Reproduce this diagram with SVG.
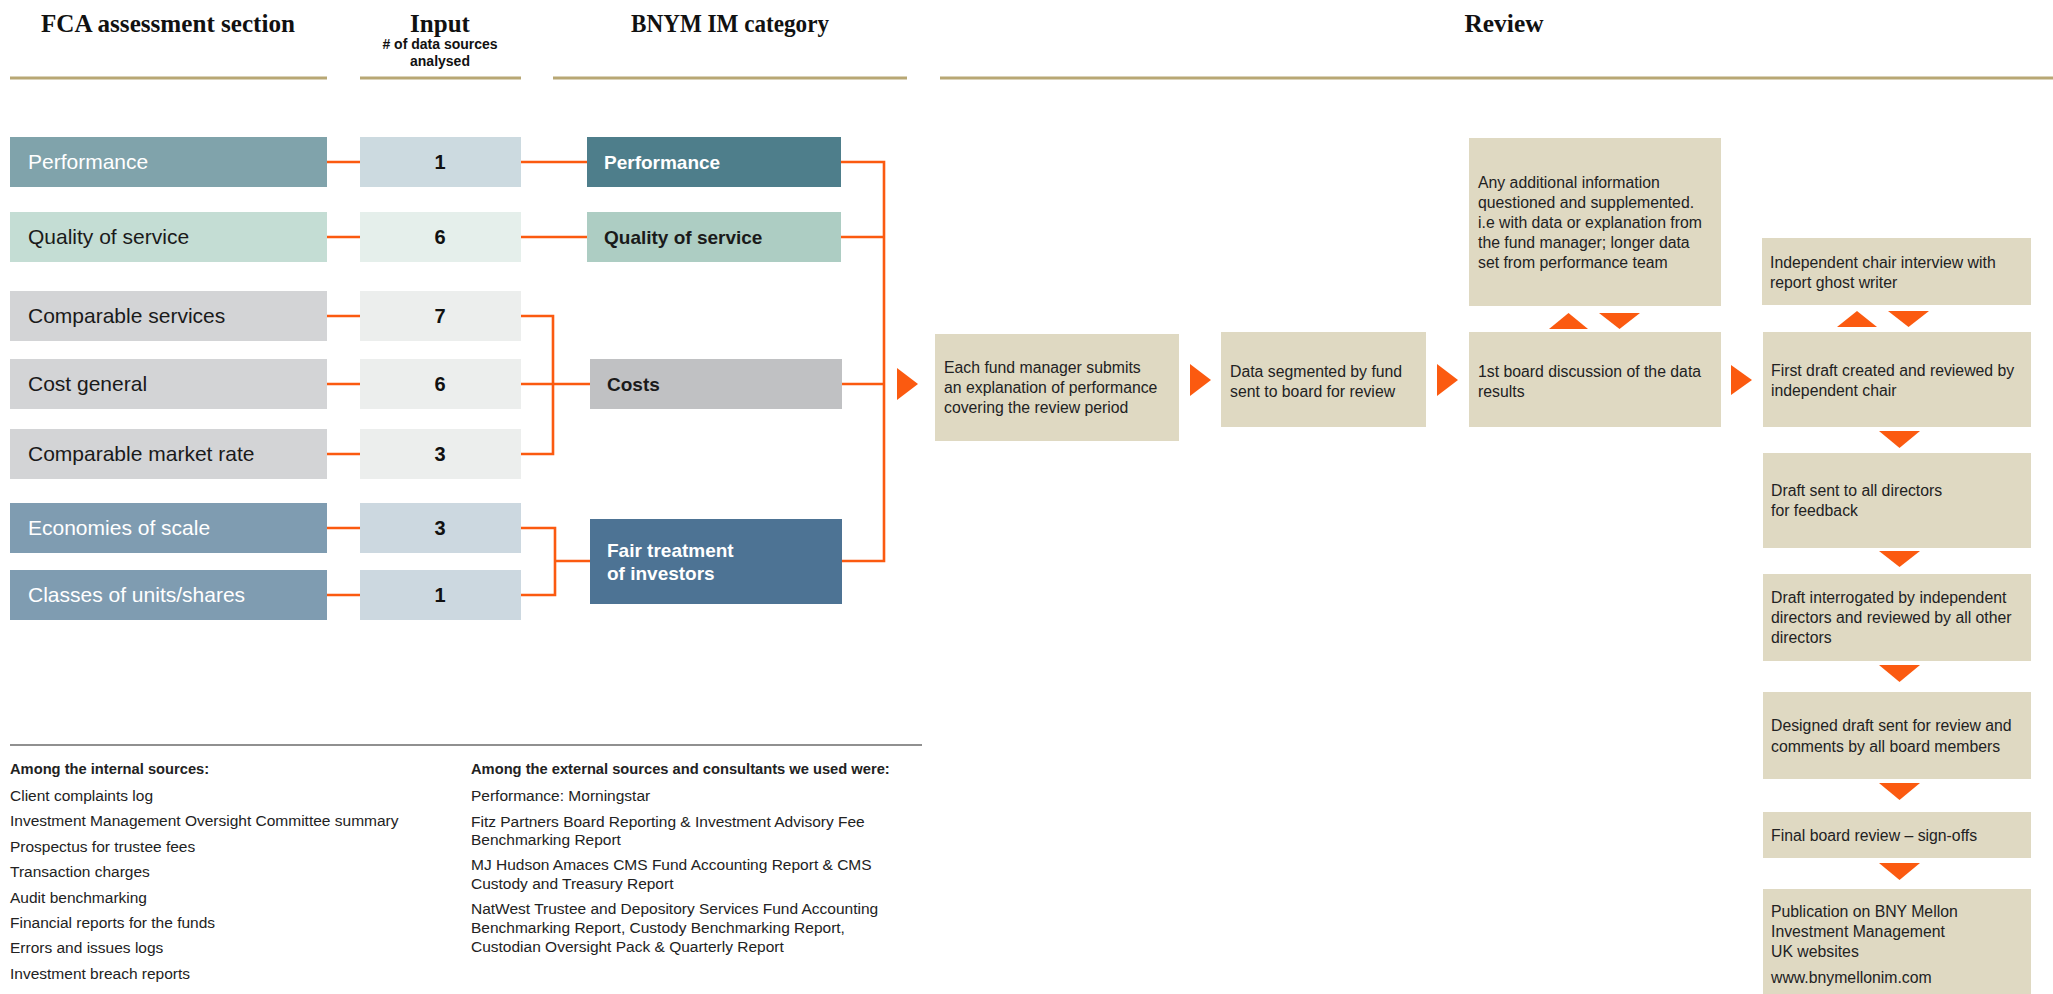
<svg xmlns="http://www.w3.org/2000/svg" width="2053" height="994" viewBox="0 0 2053 994">
<defs>
<style>
.hd{font-family:"Liberation Serif",serif;font-weight:bold;font-size:25px;fill:#111;text-anchor:middle}
.sub{font-family:"Liberation Sans",Arial,sans-serif;font-weight:bold;font-size:14px;fill:#111;text-anchor:middle}
.hl{stroke:#b8a774;stroke-width:3}
.lab{font-family:"Liberation Sans",Arial,sans-serif;font-size:21px}
.num{font-family:"Liberation Sans",Arial,sans-serif;font-size:20px;font-weight:bold;fill:#111;text-anchor:middle}
.cat{font-family:"Liberation Sans",Arial,sans-serif;font-size:19px;font-weight:bold}
.w{fill:#fff}
.d{fill:#1a1a1a}
.bg{fill:#dfd9c2}
.bt{font-family:"Liberation Sans",Arial,sans-serif;font-size:15.8px;fill:#222}
.ft{font-family:"Liberation Sans",Arial,sans-serif;font-size:15.5px;fill:#222}
.fb{font-weight:bold;font-size:14.7px}
.con{fill:none;stroke:#fb5a10;stroke-width:2.6}
.ar{fill:#fb5a10}
</style>
</defs>

<g id="headers">
<text class="hd" x="168" y="32" textLength="254" lengthAdjust="spacingAndGlyphs">FCA assessment section</text>
<text class="hd" x="440" y="32">Input</text>
<text class="sub" x="440" y="49"># of data sources</text>
<text class="sub" x="440" y="66">analysed</text>
<text class="hd" x="730" y="32" textLength="198" lengthAdjust="spacingAndGlyphs">BNYM IM category</text>
<text class="hd" x="1504" y="32" textLength="79" lengthAdjust="spacingAndGlyphs">Review</text>
<line class="hl" x1="10" y1="78" x2="327" y2="78"/>
<line class="hl" x1="360" y1="78" x2="521" y2="78"/>
<line class="hl" x1="553" y1="78" x2="907" y2="78"/>
<line class="hl" x1="940" y1="78" x2="2053" y2="78"/>
</g>

<g id="connectors">
<path class="con" d="M327 162H360M327 237H360M327 316H360M327 384H360M327 454H360M327 528H360M327 595H360"/>
<path class="con" d="M521 162H587M521 237H587"/>
<path class="con" d="M521 316H553V454H521M521 384H590"/>
<path class="con" d="M521 528H555V595H521M555 561H590"/>
<path class="con" d="M841 162H884V561H842M841 237H884M842 384H884"/>
<polygon class="ar" points="897,368 918,384 897,400"/>
<polygon class="ar" points="1190,364 1211,380 1190,396"/>
<polygon class="ar" points="1437,364 1458,380 1437,396"/>
<polygon class="ar" points="1731,365 1752,380 1731,395"/>
<polygon class="ar" points="1549,329 1568.5,313 1588,329"/>
<polygon class="ar" points="1599,313 1640,313 1619.5,329"/>
<polygon class="ar" points="1837,327 1857,311 1877,327"/>
<polygon class="ar" points="1888,311 1929,311 1908.5,327"/>
<polygon class="ar" points="1879,431 1920,431 1899.5,448"/>
<polygon class="ar" points="1879,551 1920,551 1899.5,567"/>
<polygon class="ar" points="1879,665 1920,665 1899.5,682"/>
<polygon class="ar" points="1879,783 1920,783 1899.5,800"/>
<polygon class="ar" points="1879,863 1920,863 1899.5,880"/>
</g>

<g id="fca-performance"><rect x="10" y="137" width="317" height="50" fill="#80a3ab"/><text class="lab w" x="28" y="169">Performance</text></g>
<g id="fca-quality"><rect x="10" y="212" width="317" height="50" fill="#c4ddd4"/><text class="lab d" x="28" y="244">Quality of service</text></g>
<g id="fca-comparable-services"><rect x="10" y="291" width="317" height="50" fill="#d3d4d6"/><text class="lab d" x="28" y="323">Comparable services</text></g>
<g id="fca-cost-general"><rect x="10" y="359" width="317" height="50" fill="#d3d4d6"/><text class="lab d" x="28" y="391">Cost general</text></g>
<g id="fca-market-rate"><rect x="10" y="429" width="317" height="50" fill="#d3d4d6"/><text class="lab d" x="28" y="461">Comparable market rate</text></g>
<g id="fca-economies"><rect x="10" y="503" width="317" height="50" fill="#7f9cb1"/><text class="lab w" x="28" y="535">Economies of scale</text></g>
<g id="fca-classes"><rect x="10" y="570" width="317" height="50" fill="#7f9cb1"/><text class="lab w" x="28" y="602">Classes of units/shares</text></g>

<g id="in-1"><rect x="360" y="137" width="161" height="50" fill="#ccdae0"/><text class="num" x="440" y="169">1</text></g>
<g id="in-2"><rect x="360" y="212" width="161" height="50" fill="#e5efeb"/><text class="num" x="440" y="244">6</text></g>
<g id="in-3"><rect x="360" y="291" width="161" height="50" fill="#eceeed"/><text class="num" x="440" y="323">7</text></g>
<g id="in-4"><rect x="360" y="359" width="161" height="50" fill="#eceeed"/><text class="num" x="440" y="391">6</text></g>
<g id="in-5"><rect x="360" y="429" width="161" height="50" fill="#eceeed"/><text class="num" x="440" y="461">3</text></g>
<g id="in-6"><rect x="360" y="503" width="161" height="50" fill="#ccd8e0"/><text class="num" x="440" y="535">3</text></g>
<g id="in-7"><rect x="360" y="570" width="161" height="50" fill="#ccd8e0"/><text class="num" x="440" y="602">1</text></g>

<g id="cat-performance"><rect x="587" y="137" width="254" height="50" fill="#4e7e8b"/><text class="cat w" x="604" y="169">Performance</text></g>
<g id="cat-quality"><rect x="587" y="212" width="254" height="50" fill="#adcdc3"/><text class="cat d" x="604" y="244">Quality of service</text></g>
<g id="cat-costs"><rect x="590" y="359" width="252" height="50" fill="#c0c1c3"/><text class="cat d" x="607" y="391">Costs</text></g>
<g id="cat-fair"><rect x="590" y="519" width="252" height="85" fill="#4d7394"/><text class="cat w" x="607" y="557">Fair treatment</text><text class="cat w" x="607" y="580">of investors</text></g>

<g id="r-submit"><rect class="bg" x="935" y="334" width="244" height="107"/><text class="bt" x="944" y="373">Each fund manager submits</text><text class="bt" x="944" y="393">an explanation of performance</text><text class="bt" x="944" y="413">covering the review period</text></g>
<g id="r-segment"><rect class="bg" x="1221" y="332" width="205" height="95"/><text class="bt" x="1230" y="377">Data segmented by fund</text><text class="bt" x="1230" y="397">sent to board for review</text></g>
<g id="r-additional"><rect class="bg" x="1469" y="138" width="252" height="168"/><text class="bt" x="1478" y="188">Any additional information</text><text class="bt" x="1478" y="208">questioned and supplemented.</text><text class="bt" x="1478" y="228">i.e with data or explanation from</text><text class="bt" x="1478" y="248">the fund manager; longer data</text><text class="bt" x="1478" y="268">set from performance team</text></g>
<g id="r-discussion"><rect class="bg" x="1469" y="332" width="252" height="95"/><text class="bt" x="1478" y="377">1st board discussion of the data</text><text class="bt" x="1478" y="397">results</text></g>
<g id="r-interview"><rect class="bg" x="1762" y="238" width="269" height="67"/><text class="bt" x="1770" y="268">Independent chair interview with</text><text class="bt" x="1770" y="288">report ghost writer</text></g>
<g id="r-first-draft"><rect class="bg" x="1763" y="332" width="268" height="95"/><text class="bt" x="1771" y="376">First draft created and reviewed by</text><text class="bt" x="1771" y="396">independent chair</text></g>
<g id="r-directors"><rect class="bg" x="1763" y="453" width="268" height="95"/><text class="bt" x="1771" y="496">Draft sent to all directors</text><text class="bt" x="1771" y="516">for feedback</text></g>
<g id="r-interrogated"><rect class="bg" x="1763" y="574" width="268" height="87"/><text class="bt" x="1771" y="603">Draft interrogated by independent</text><text class="bt" x="1771" y="623">directors and reviewed by all other</text><text class="bt" x="1771" y="643">directors</text></g>
<g id="r-designed"><rect class="bg" x="1763" y="692" width="268" height="87"/><text class="bt" x="1771" y="731">Designed draft sent for review and</text><text class="bt" x="1771" y="752">comments by all board members</text></g>
<g id="r-final"><rect class="bg" x="1763" y="812" width="268" height="46"/><text class="bt" x="1771" y="841">Final board review – sign-offs</text></g>
<g id="r-publication"><rect class="bg" x="1763" y="889" width="268" height="105"/><text class="bt" x="1771" y="917">Publication on BNY Mellon</text><text class="bt" x="1771" y="937">Investment Management</text><text class="bt" x="1771" y="957">UK websites</text><text class="bt" x="1771" y="983">www.bnymellonim.com</text></g>

<g id="footer">
<line x1="10" y1="745" x2="922" y2="745" stroke="#222" stroke-width="1.2"/>
<text class="ft fb" x="10" y="774">Among the internal sources:</text>
<text class="ft" x="10" y="801">Client complaints log</text>
<text class="ft" x="10" y="826">Investment Management Oversight Committee summary</text>
<text class="ft" x="10" y="852">Prospectus for trustee fees</text>
<text class="ft" x="10" y="877">Transaction charges</text>
<text class="ft" x="10" y="903">Audit benchmarking</text>
<text class="ft" x="10" y="928">Financial reports for the funds</text>
<text class="ft" x="10" y="953">Errors and issues logs</text>
<text class="ft" x="10" y="979">Investment breach reports</text>
<text class="ft fb" x="471" y="774">Among the external sources and consultants we used were:</text>
<text class="ft" x="471" y="801">Performance: Morningstar</text>
<text class="ft" x="471" y="827">Fitz Partners Board Reporting &amp; Investment Advisory Fee</text>
<text class="ft" x="471" y="845">Benchmarking Report</text>
<text class="ft" x="471" y="870">MJ Hudson Amaces CMS Fund Accounting Report &amp; CMS</text>
<text class="ft" x="471" y="889">Custody and Treasury Report</text>
<text class="ft" x="471" y="914">NatWest Trustee and Depository Services Fund Accounting</text>
<text class="ft" x="471" y="933">Benchmarking Report, Custody Benchmarking Report,</text>
<text class="ft" x="471" y="952">Custodian Oversight Pack &amp; Quarterly Report</text>
</g>
</svg>
